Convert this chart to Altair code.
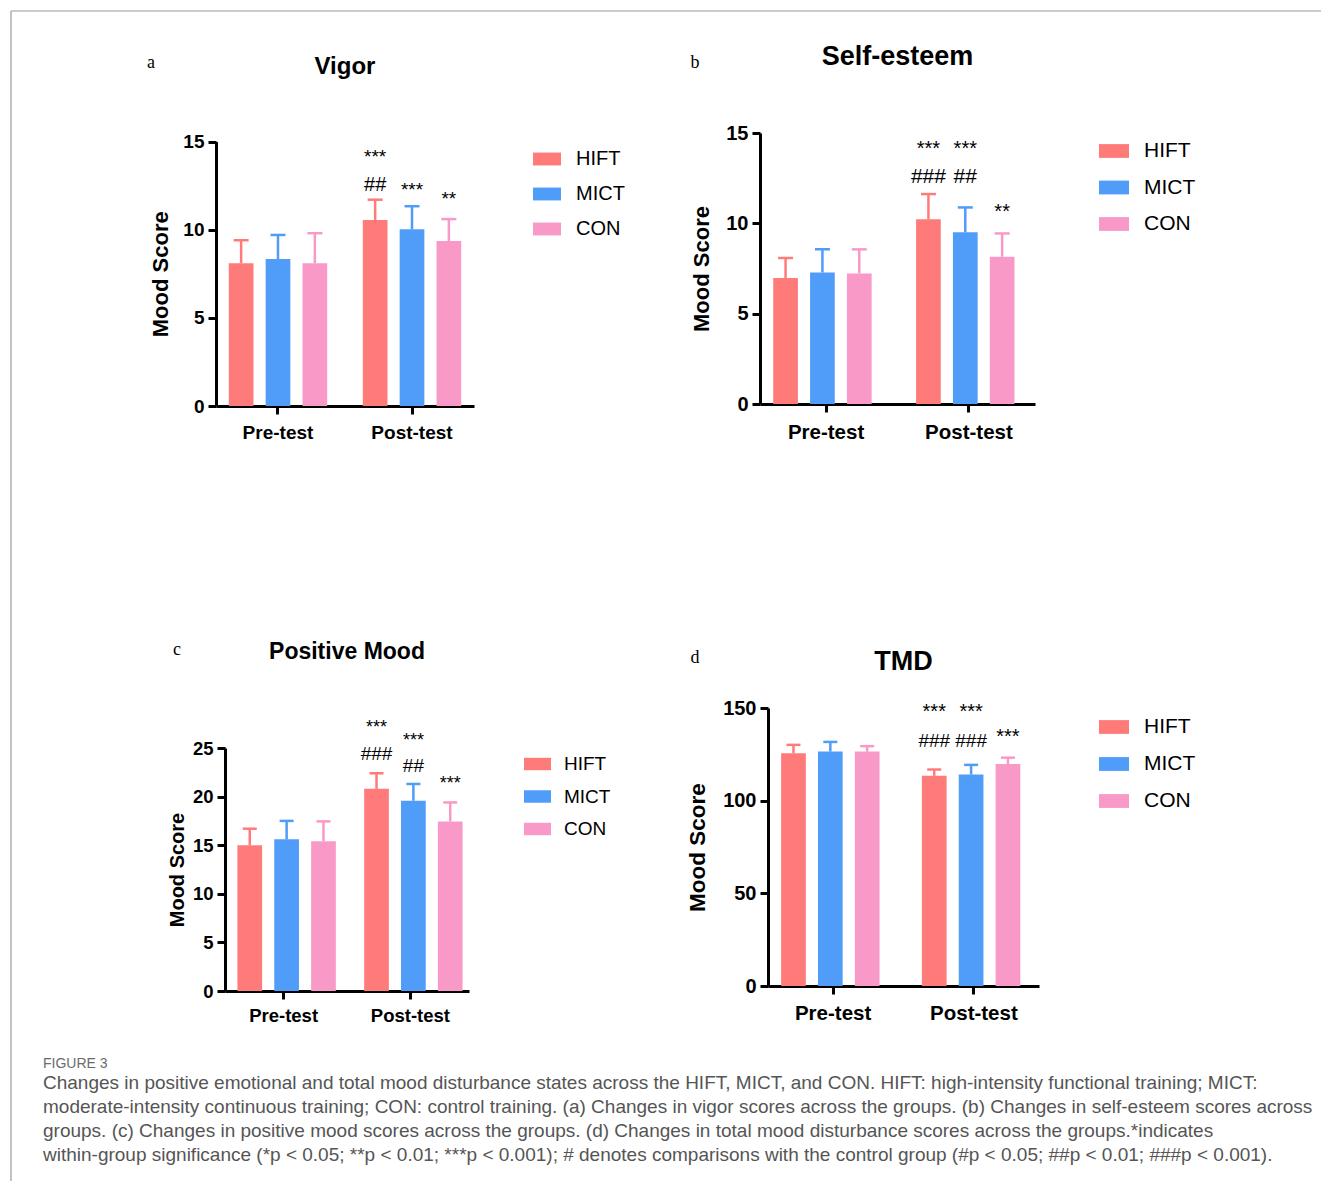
import itertools
import altair as alt
import pandas as pd

FONT = "Liberation Sans"

groups = ["HIFT", "MICT", "CON"]
times = ["Pre-test", "Post-test"]
colors = ["#FF7B7A", "#4F9CF9", "#F899C8"]

# order of values: Pre HIFT, Pre MICT, Pre CON, Post HIFT, Post MICT, Post CON
vigor_mean = [8.1, 8.33, 8.1, 10.55, 10.02, 9.36]
vigor_sd = [1.3, 1.37, 1.7, 1.15, 1.31, 1.24]
esteem_mean = [6.97, 7.28, 7.23, 10.22, 9.5, 8.15]
esteem_sd = [1.11, 1.28, 1.33, 1.40, 1.38, 1.29]
posmood_mean = [15.0, 15.6, 15.4, 20.8, 19.57, 17.45]
posmood_sd = [1.7, 1.9, 2.05, 1.6, 1.73, 1.95]
tmd_mean = [125.6, 126.5, 126.5, 113.4, 114.1, 119.8]
tmd_sd = [4.5, 5.2, 2.9, 3.4, 5.2, 3.4]

# significance marks above the Post-test bars (group, label, score level)
vigor_ann_group = ["HIFT", "HIFT", "MICT", "CON"]
vigor_ann_label = ["***", "##", "***", "**"]
vigor_ann_y = [14.3, 12.6, 12.4, 11.9]

esteem_ann_group = ["HIFT", "HIFT", "MICT", "MICT", "CON"]
esteem_ann_label = ["***", "###", "***", "##", "**"]
esteem_ann_y = [14.3, 12.63, 14.3, 12.63, 10.79]

posmood_ann_group = ["HIFT", "HIFT", "MICT", "MICT", "CON"]
posmood_ann_label = ["***", "###", "***", "##", "***"]
posmood_ann_y = [27.4, 24.5, 26.0, 23.2, 21.6]

tmd_ann_group = ["HIFT", "HIFT", "MICT", "MICT", "CON"]
tmd_ann_label = ["***", "###", "***", "###", "***"]
tmd_ann_y = [149.4, 132.8, 149.4, 132.8, 135.9]

caption_head = "FIGURE 3"
caption_lines = [
    "Changes in positive emotional and total mood disturbance states across the HIFT, MICT, and CON. HIFT: high-intensity functional training; MICT:",
    "moderate-intensity continuous training; CON: control training. (a) Changes in vigor scores across the groups. (b) Changes in self-esteem scores across",
    "groups. (c) Changes in positive mood scores across the groups. (d) Changes in total mood disturbance scores across the groups.*indicates",
    "within-group significance (*p < 0.05; **p < 0.01; ***p < 0.001); # denotes comparisons with the control group (#p < 0.05; ##p < 0.01; ###p <  0.001).",
]


def build_df(means, sds):
    recs = []
    for (t, g), m, s in zip(itertools.product(times, groups), means, sds):
        recs.append({"time": t, "group": g, "mean": m, "upper": round(m + s, 3)})
    return pd.DataFrame(recs)


def panel(c, frame=False):
    df = build_df(c["means"], c["sds"])
    ann = pd.DataFrame({"time": "Post-test", "group": c["ann_group"],
                        "label": c["ann_label"], "y": c["ann_y"]})
    stars = ann[ann["label"].str.contains("*", regex=False)]
    hashes = ann[ann["label"].str.contains("#", regex=False)]

    ysk = dict(domain=[0, c["ymax"]], nice=False, zero=True)
    if c["yrange"] is not None:
        ysk["range"] = c["yrange"]
    yaxis = alt.Axis(title="Mood Score", values=c["ticks"], offset=c["axis_off"],
                     labelFontSize=c["fs_ylab"], titleFontSize=c["fs_ytitle"],
                     titlePadding=c["tpad"], labelPadding=4)
    xaxis = alt.Axis(title=None, labelAngle=0, labelFontSize=c["fs_xlab"],
                     labelPadding=c["xlpad"])

    def X():
        return alt.X("time:N", sort=times,
                     scale=alt.Scale(range=c["xrange"], paddingInner=0.175, paddingOuter=0.05),
                     axis=xaxis)

    def XO():
        return alt.XOffset("group:N", sort=groups,
                           scale=alt.Scale(paddingInner=0.33, paddingOuter=0.165))

    def Y(field):
        return alt.Y(f"{field}:Q", scale=alt.Scale(**ysk), axis=yaxis)

    legend = alt.Legend(title=None, orient="none", legendX=c["lx"], legendY=c["ly"],
                        symbolType="M-1,-0.46H1V0.46H-1Z", symbolSize=c["sym"],
                        symbolStrokeWidth=0, symbolOpacity=1,
                        labelFont=FONT, labelFontSize=c["fs_leg"], labelColor="black",
                        rowPadding=c["rowpad"], labelOffset=c["loff"], padding=0)

    bars = alt.Chart(df).mark_bar(opacity=1).encode(
        x=X(), xOffset=XO(), y=Y("mean"),
        color=alt.Color("group:N", sort=groups,
                        scale=alt.Scale(domain=groups, range=colors), legend=legend),
    )
    stems = alt.Chart(df).mark_rule(strokeWidth=2.5).encode(
        x=X(), xOffset=XO(), y=Y("mean"), y2="upper:Q",
        stroke=alt.Stroke("group:N", scale=alt.Scale(domain=groups, range=colors), legend=None),
    )
    caps = alt.Chart(df).mark_tick(thickness=2.5, size=c["cap"], opacity=1).encode(
        x=X(), xOffset=XO(), y=Y("upper"),
        fill=alt.Fill("group:N", scale=alt.Scale(domain=groups, range=colors), legend=None),
    )
    star_txt = alt.Chart(stars).mark_text(font=FONT, fontSize=c["fs_star"], baseline="middle",
                                          dy=round(0.14 * c["fs_star"]), color="black").encode(
        x=X(), xOffset=XO(), y=Y("y"), text="label:N")
    hash_txt = alt.Chart(hashes).mark_text(font=FONT, fontSize=c["fs_hash"], baseline="middle",
                                           dy=1, color="black").encode(
        x=X(), xOffset=XO(), y=Y("y"), text="label:N")
    letter = alt.Chart(pd.DataFrame({"k": [0]})).mark_text(
        text=c["letter"], font="Liberation Serif", fontSize=18, align="center",
        baseline="middle", color="black").encode(x=alt.value(c["letter_x"]), y=alt.value(c["letter_y"]))

    layers = [bars, stems, caps, star_txt, hash_txt, letter]
    if frame:
        fdf = pd.DataFrame({"k": [0]})
        layers.append(alt.Chart(fdf).mark_rule(color="#9a9a9a", strokeWidth=1.2).encode(
            x=alt.value(-205), x2=alt.value(1105), y=alt.value(-122)))
        layers.append(alt.Chart(fdf).mark_rule(color="#9a9a9a", strokeWidth=1.2).encode(
            x=alt.value(-205), y=alt.value(-122), y2=alt.value(1048)))

    return alt.layer(*layers).properties(
        width=c["w"], height=c["h"],
        title=alt.Title(c["name"], font=FONT, fontSize=c["fs_title"], fontWeight="bold",
                        color="black", anchor="middle", frame="group",
                        offset=c["toff"], dx=c["tdx"]),
    )


cfg_a = dict(name="Vigor", letter="a", means=vigor_mean, sds=vigor_sd,
             ann_group=vigor_ann_group, ann_label=vigor_ann_label, ann_y=vigor_ann_y,
             ymax=15, ticks=[0, 5, 10, 15], w=258, h=273, xrange=[0, 258], yrange=[273, 8.5],
             axis_off=0, fs_ylab=19, fs_ytitle=22, tpad=10, fs_xlab=19, xlpad=9,
             lx=317, ly=12, sym=784, fs_leg=20, rowpad=11, loff=15, cap=15,
             fs_star=19, fs_hash=20, letter_x=-65, letter_y=-70,
             fs_title=24, toff=-68.5, tdx=0)
cfg_b = dict(name="Self-esteem", letter="b", means=esteem_mean, sds=esteem_sd,
             ann_group=esteem_ann_group, ann_label=esteem_ann_label, ann_y=esteem_ann_y,
             ymax=15, ticks=[0, 5, 10, 15], w=275, h=271, xrange=[0, 275], yrange=None,
             axis_off=0, fs_ylab=20, fs_ytitle=22, tpad=12, fs_xlab=20.5, xlpad=10,
             lx=339, ly=3, sym=900, fs_leg=21, rowpad=11.5, loff=15, cap=15,
             fs_star=20, fs_hash=21, letter_x=-65, letter_y=-70,
             fs_title=27, toff=-17, tdx=0)
cfg_c = dict(name="Positive Mood", letter="c", means=posmood_mean, sds=posmood_sd,
             ann_group=posmood_ann_group, ann_label=posmood_ann_label, ann_y=posmood_ann_y,
             ymax=25, ticks=[0, 5, 10, 15, 20, 25], w=258, h=283, xrange=[9, 253], yrange=[283, 40],
             axis_off=-9, fs_ylab=18.5, fs_ytitle=20, tpad=5, fs_xlab=18.5, xlpad=7,
             lx=308, ly=42.5, sym=729, fs_leg=19, rowpad=8.5, loff=13, cap=14,
             fs_star=18, fs_hash=19, letter_x=-39, letter_y=-58,
             fs_title=23, toff=-22.5, tdx=2)
cfg_d = dict(name="TMD", letter="d", means=tmd_mean, sds=tmd_sd,
             ann_group=tmd_ann_group, ann_label=tmd_ann_label, ann_y=tmd_ann_y,
             ymax=150, ticks=[0, 50, 100, 150], w=279, h=278, xrange=[8, 279], yrange=None,
             axis_off=-8, fs_ylab=20, fs_ytitle=22.5, tpad=13, fs_xlab=20.5, xlpad=9,
             lx=339, ly=4, sym=900, fs_leg=21, rowpad=12, loff=15, cap=14,
             fs_star=20, fs_hash=19, letter_x=-65, letter_y=-50,
             fs_title=27, toff=-27, tdx=4)

chart = alt.concat(
    panel(cfg_a, frame=True), panel(cfg_b), panel(cfg_c), panel(cfg_d),
    columns=2, spacing={"row": 292, "column": 265}, bounds="flush", align="all",
).resolve_scale(color="independent").resolve_legend(color="independent").properties(
    title=alt.Title(caption_head, subtitle=caption_lines, orient="bottom", anchor="start",
                    frame="group", dx=-173, offset=-125, font=FONT, fontSize=14,
                    fontWeight="normal", color="#6b6b6b", subtitleFont=FONT,
                    subtitleFontSize=19, subtitleColor="#555555", subtitleLineHeight=24,
                    subtitlePadding=3),
    padding={"left": 10, "top": 10, "right": 0, "bottom": 0},
).configure_view(stroke=None).configure_axis(
    domainColor="black", domainWidth=3, tickColor="black", tickWidth=3, tickSize=8,
    labelColor="black", titleColor="black", labelFont=FONT, titleFont=FONT,
    labelFontWeight="bold", titleFontWeight="bold", grid=False,
)

chart.save("out.html", embed_options={"renderer": "svg", "actions": False})
